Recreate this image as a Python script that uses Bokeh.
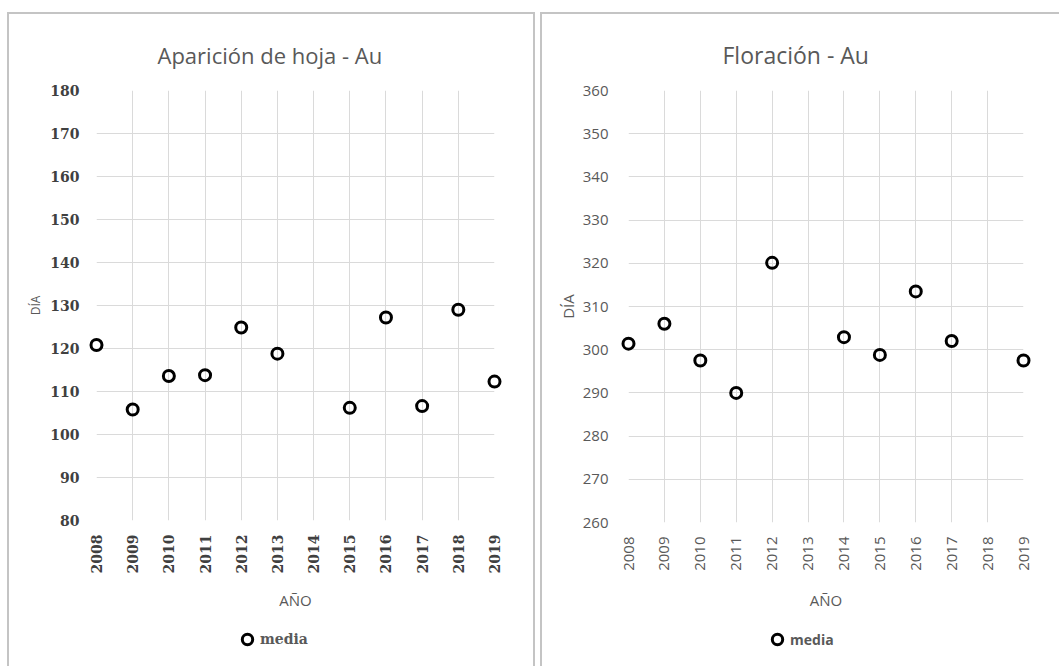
import math
from bokeh.plotting import figure
from bokeh.layouts import row, column
from bokeh.models import Range1d, FixedTicker, Legend, LegendItem, Title, ColumnDataSource
from bokeh.embed import file_html
from bokeh.resources import INLINE

# ---- data ----
years = list(range(2008, 2020))
hoja_years = [2008, 2009, 2010, 2011, 2012, 2013, 2015, 2016, 2017, 2018, 2019]
hoja_media = [120.8, 105.8, 113.6, 113.8, 124.9, 118.8, 106.2, 127.2, 106.6, 129.0, 112.3]
flor_years = [2008, 2009, 2010, 2011, 2012, 2014, 2015, 2016, 2017, 2019]
flor_media = [301.4, 306.0, 297.5, 290.0, 320.1, 302.9, 298.8, 313.5, 302.0, 297.5]
hoja_yticks = list(range(80, 181, 10))
flor_yticks = list(range(260, 361, 10))
titles = ["Aparición de hoja - Au", "Floración - Au"]
x_label = "AÑO"
y_label = "DÍA"
series_name = "media"

GRID = "#dadada"
TXT = "#595959"
BORDER = "#c4c4c4"
MARKER = dict(marker="circle", size=11, fill_color="white", fill_alpha=0,
              line_color="black", line_width=3)


def make_chart(title, src, yticks, w, h, fl, fw, ft, fh, tick_font, tick_bold, tick_size,
               lab_font, ylab_size, title_size, title_offset, title_standoff, tick_color,
               y_standoff, x_standoff, ylab_standoff, xlab_standoff, styles, margin):
    p = figure(width=w, height=h, output_backend="svg", toolbar_location=None,
               x_range=Range1d(years[0], years[-1]),
               y_range=Range1d(yticks[0], yticks[-1]),
               min_border_left=fl, min_border_right=w - fl - fw,
               min_border_top=ft, min_border_bottom=h - ft - fh)
    p.outline_line_color = None
    p.background_fill_color = "white"
    p.border_fill_color = "white"
    p.styles = styles
    p.margin = margin

    for ax in (p.xaxis[0], p.yaxis[0]):
        ax.axis_line_color = None
        ax.major_tick_line_color = None
        ax.minor_tick_line_color = None
        ax.major_label_text_font = tick_font
        ax.major_label_text_font_style = "bold" if tick_bold else "normal"
        ax.major_label_text_color = tick_color
        ax.major_label_text_font_size = tick_size
        ax.axis_label_text_font = lab_font
        ax.axis_label_text_font_style = "normal"
        ax.axis_label_text_color = TXT

    p.xaxis.ticker = FixedTicker(ticks=years)
    p.xaxis.major_label_orientation = math.pi / 2
    p.xaxis.major_label_standoff = x_standoff
    p.xaxis.axis_label = x_label
    p.xaxis.axis_label_standoff = xlab_standoff
    p.xaxis.axis_label_text_font_size = "15px"
    p.yaxis.ticker = FixedTicker(ticks=yticks)
    p.yaxis.major_label_standoff = y_standoff
    p.yaxis.axis_label = y_label
    p.yaxis.axis_label_standoff = ylab_standoff
    p.yaxis.axis_label_text_font_size = ylab_size

    p.xgrid.grid_line_color = GRID
    p.ygrid.grid_line_color = GRID

    r = p.scatter("x", "y", source=src, **MARKER)
    r.level = "overlay"

    t = Title(text=title, align="left", offset=title_offset, standoff=title_standoff,
              text_font=lab_font, text_font_size=title_size, text_color=TXT,
              text_font_style="normal")
    p.add_layout(t, "above")
    return p


def make_legend(src, w, h, loc, font, styles, margin):
    # legend strip below the chart; its sample renderer uses the series data,
    # which lies outside this strip's ranges, so only the legend swatch shows
    q = figure(width=w, height=h, output_backend="svg", toolbar_location=None,
               x_range=Range1d(0, 1), y_range=Range1d(0, 1),
               x_axis_location=None, y_axis_location=None,
               min_border=0)
    q.grid.visible = False
    q.outline_line_color = None
    q.background_fill_color = "white"
    q.border_fill_color = "white"
    q.styles = styles
    q.margin = margin
    r = q.scatter("x", "y", source=src, **MARKER)
    lg = Legend(items=[LegendItem(label=series_name, renderers=[r])],
                location=loc, orientation="horizontal",
                background_fill_alpha=0, border_line_color=None,
                padding=0, margin=0, glyph_width=26, glyph_height=26,
                label_standoff=0, label_text_font=font, label_text_font_style="bold",
                label_text_color=TXT, label_text_font_size="14px")
    q.add_layout(lg, "center")
    return q


side = f"2px solid {BORDER}"
src1 = ColumnDataSource(dict(x=hoja_years, y=hoja_media))
src2 = ColumnDataSource(dict(x=flor_years, y=flor_media))

p1 = make_chart(titles[0], src1, hoja_yticks,
                w=528, h=610, fl=87, fw=398, ft=76, fh=430,
                tick_font="DejaVu Serif", tick_bold=True, tick_size="14px",
                lab_font="Open Sans", ylab_size="12px", title_size="22px", title_offset=61,
                title_standoff=42, tick_color="#404040", y_standoff=11, x_standoff=8,
                ylab_standoff=3, xlab_standoff=14,
                styles={"border-top": side, "border-left": side, "border-right": side},
                margin=(12, 0, 0, 7))
l1 = make_legend(src1, 528, 44, (138, 14), "DejaVu Serif",
                 styles={"border-left": side, "border-right": side}, margin=(0, 0, 0, 7))

p2 = make_chart(titles[1], src2, flor_yticks,
                w=519, h=610, fl=86, fw=395, ft=76, fh=432,
                tick_font="Open Sans", tick_bold=False, tick_size="15px",
                lab_font="Open Sans", ylab_size="15px", title_size="23px", title_offset=94,
                title_standoff=39, tick_color=TXT, y_standoff=14, x_standoff=8,
                ylab_standoff=2, xlab_standoff=16,
                styles={"border-top": side, "border-left": side},
                margin=(12, 0, 0, 5))
l2 = make_legend(src2, 519, 44, (136, 14), "Open Sans",
                 styles={"border-left": side}, margin=(0, 0, 0, 5))

layout = row(column(p1, l1), column(p2, l2))
layout.margin = 0
open("out.html", "w").write(file_html(layout, INLINE))
